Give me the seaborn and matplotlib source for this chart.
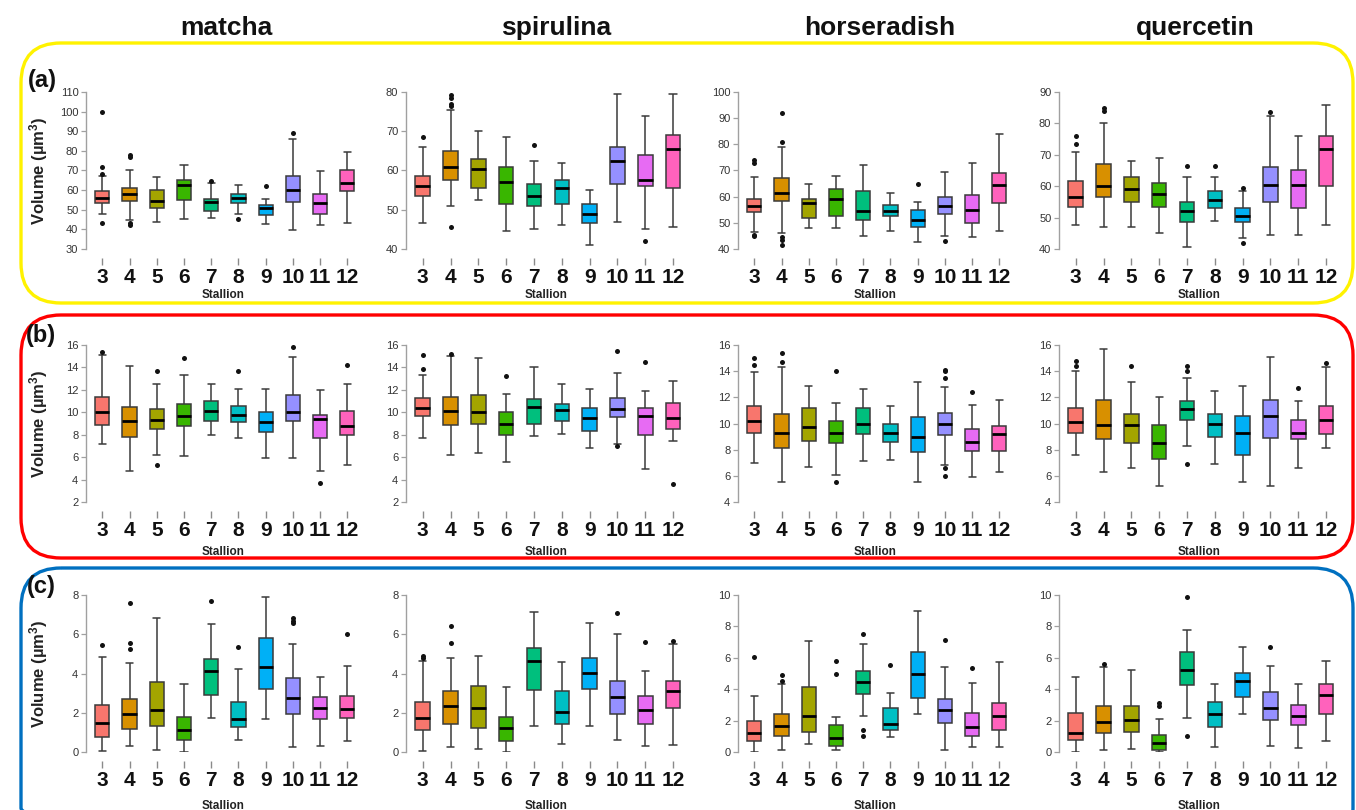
import numpy as np
import pandas as pd
import matplotlib
matplotlib.use("Agg")
import matplotlib.pyplot as plt
from matplotlib.patches import FancyBboxPatch
import seaborn as sns

# ---------------- data ----------------
STALLIONS = ["3", "4", "5", "6", "7", "8", "9", "10", "11", "12"]
COLORS = ["#F8766D", "#D89000", "#A3A500", "#39B600", "#00BF7D",
          "#00BFC4", "#00B0F6", "#9590FF", "#E76BF3", "#FF62BC"]
SUBSTANCES = ["matcha", "spirulina", "horseradish", "quercetin"]
ROW_LABELS = ["(a)", "(b)", "(c)"]
FRAME_COLORS = ["#FFF200", "#FF0000", "#0070C0"]
Y_LABEL = "Volume (µm$^{3}$)"
X_LABEL = "Stallion"

# box stats per stallion: (whisker low, Q1, median, Q3, whisker high)
matcha_a = [(48, 53.5, 56, 59.5, 67), (45, 54.5, 58, 61, 70.5), (44, 51, 54.5, 60, 66.5),
            (45.5, 55, 62.5, 65, 73), (46, 49.5, 54, 55.5, 63.5), (48, 53.5, 56, 58, 62.5),
            (42.5, 47.5, 51, 52.5, 55.5), (39.5, 54, 60, 67, 86), (42, 48, 53.5, 58, 69.5),
            (43, 59.5, 63.5, 70.5, 79.5)]
matcha_a_out = [("3", 100), ("3", 72), ("3", 68), ("3", 43), ("4", 78), ("4", 77), ("4", 43),
                ("4", 42), ("7", 64.5), ("8", 45.5), ("9", 62), ("10", 89)]

spirulina_a = [(46.5, 53.5, 56, 58.5, 66), (51, 57.5, 61, 65, 75.5), (52.5, 55.5, 60.5, 63, 70),
               (44.5, 51.5, 57, 61, 68.5), (45, 51, 53.5, 56.5, 62.5), (46, 51.5, 55.5, 57.5, 62),
               (41, 46.5, 49, 51.5, 55), (47, 56.5, 62.5, 66, 79.5), (45, 56, 57.5, 64, 74),
               (45.5, 55.5, 65.5, 69, 79.5)]
spirulina_a_out = [("3", 68.5), ("4", 79.2), ("4", 78.5), ("4", 77), ("4", 76.5), ("4", 45.5),
                   ("7", 66.5), ("11", 42)]

horseradish_a = [(46.5, 54, 56.5, 59, 67.5), (46, 58.5, 61.5, 67, 79), (48, 52, 57.5, 59, 65),
                 (48, 52.5, 59, 63, 68), (45, 51, 54.5, 62, 72), (47, 52.5, 54.5, 57, 61.5),
                 (42.5, 48.5, 51, 55, 58), (45, 53.5, 56.5, 60, 69.5), (44.5, 50, 55, 60.5, 73),
                 (47, 57.5, 64.5, 69, 84)]
horseradish_a_out = [("3", 74), ("3", 73), ("3", 45.5), ("3", 45), ("4", 92), ("4", 81),
                     ("4", 44.5), ("4", 43.5), ("4", 41.5), ("9", 65), ("10", 43)]

quercetin_a = [(47.5, 53.5, 56.5, 61.5, 71), (47, 56.5, 60, 67, 80), (47, 55, 59, 63, 68),
               (45, 53.5, 57.5, 61, 69), (40.5, 48.5, 52, 55, 63), (49, 53, 55.5, 58.5, 63),
               (43.5, 48.5, 50.5, 53, 58.5), (44.5, 55, 60.5, 66, 82.5), (44.5, 53, 60.5, 65, 76),
               (47.5, 60, 72, 76, 86)]
quercetin_a_out = [("3", 76), ("3", 73.5), ("4", 85), ("4", 84), ("7", 66.5), ("8", 66.5),
                   ("9", 59.5), ("9", 42), ("10", 83.5)]

matcha_b = [(7.2, 8.9, 10, 11.4, 15.1), (4.8, 7.8, 9.2, 10.5, 14.1), (6.2, 8.5, 9.3, 10.3, 12.5),
            (6.1, 8.8, 9.7, 10.7, 13.3), (8.0, 9.2, 10.1, 11.0, 12.5), (7.7, 9.1, 9.8, 10.6, 12.1),
            (5.9, 8.2, 9.1, 10.0, 12.1), (5.9, 9.2, 10.0, 11.5, 14.9), (4.8, 7.7, 9.4, 9.8, 12.0),
            (5.3, 8.0, 8.8, 10.1, 12.5)]
matcha_b_out = [("3", 15.4), ("5", 13.7), ("5", 5.3), ("6", 14.8), ("8", 13.7), ("10", 15.8),
                ("11", 3.7), ("12", 14.2)]

spirulina_b = [(7.7, 9.7, 10.4, 11.3, 13.3), (6.2, 8.9, 10.1, 11.4, 15.0), (6.4, 9.0, 10.0, 11.5, 14.8),
               (5.6, 8.0, 9.0, 10.0, 11.6), (7.9, 9.0, 10.5, 11.2, 14.0), (8.1, 9.2, 10.2, 10.7, 12.5),
               (6.8, 8.3, 9.5, 10.4, 12.1), (7.2, 9.6, 10.3, 11.3, 13.5), (4.9, 8.0, 9.7, 10.4, 11.9),
               (7.4, 8.5, 9.5, 10.8, 12.8)]
spirulina_b_out = [("3", 15.1), ("3", 13.9), ("4", 15.2), ("6", 13.2), ("10", 15.5), ("10", 7.0),
                   ("11", 14.5), ("12", 3.6)]

horseradish_b = [(7.0, 9.3, 10.2, 11.3, 13.9), (5.5, 8.1, 9.3, 10.7, 14.3), (6.7, 8.7, 9.7, 11.2, 12.9),
                 (6.1, 8.5, 9.3, 10.2, 11.6), (7.1, 9.2, 10.0, 11.2, 12.6), (7.2, 8.6, 9.3, 10.0, 11.3),
                 (5.5, 7.8, 9.0, 10.5, 13.2), (6.8, 9.1, 10.0, 10.8, 12.8), (5.9, 7.9, 8.6, 9.6, 11.4),
                 (6.3, 7.9, 9.2, 9.8, 11.8)]
horseradish_b_out = [("3", 15.0), ("3", 14.5), ("4", 15.4), ("4", 14.7), ("6", 14.0), ("6", 5.5),
                     ("10", 14.1), ("10", 14.0), ("10", 13.5), ("10", 6.6), ("10", 6.0), ("11", 12.4)]

quercetin_b = [(7.6, 9.3, 10.1, 11.2, 14.0), (6.3, 8.8, 9.9, 11.8, 15.7), (6.6, 8.5, 9.9, 10.7, 13.2),
               (5.2, 7.3, 8.5, 9.9, 12.0), (8.3, 10.3, 11.1, 11.7, 13.5), (6.9, 9.0, 10.0, 10.7, 12.5),
               (5.5, 7.6, 9.3, 10.6, 12.9), (5.2, 8.9, 10.6, 11.8, 15.1), (6.6, 8.8, 9.3, 10.3, 11.7),
               (8.1, 9.2, 10.3, 11.3, 14.3)]
quercetin_b_out = [("3", 14.8), ("3", 14.4), ("5", 14.4), ("7", 14.4), ("7", 14.0), ("7", 6.9),
                   ("11", 12.7), ("12", 14.6)]

matcha_c = [(0.05, 0.75, 1.5, 2.4, 4.85), (0.3, 1.15, 1.95, 2.7, 4.55), (0.1, 1.3, 2.15, 3.55, 6.85),
            (0.0, 0.6, 1.1, 1.8, 3.45), (1.75, 2.9, 4.15, 4.75, 6.5), (0.6, 1.25, 1.7, 2.55, 4.25),
            (1.7, 3.2, 4.35, 5.8, 7.9), (0.25, 1.95, 2.75, 3.75, 5.5), (0.3, 1.7, 2.25, 2.8, 3.8),
            (0.55, 1.75, 2.2, 2.85, 4.4)]
matcha_c_out = [("3", 5.45), ("4", 7.6), ("4", 5.55), ("4", 5.25), ("7", 7.7), ("8", 5.35),
                ("10", 6.85), ("10", 6.7), ("10", 6.55), ("12", 6.0)]

spirulina_c = [(0.05, 1.1, 1.75, 2.55, 4.65), (0.25, 1.45, 2.35, 3.1, 4.8), (0.15, 1.2, 2.25, 3.35, 4.9),
               (0.0, 0.55, 1.2, 1.8, 3.3), (1.35, 3.15, 4.65, 5.3, 7.15), (0.4, 1.45, 2.05, 3.1, 4.6),
               (1.35, 3.2, 4.05, 4.8, 6.55), (0.6, 1.95, 2.8, 3.6, 6.0), (0.3, 1.45, 2.15, 2.85, 4.15),
               (0.35, 2.25, 3.1, 3.6, 5.5)]
spirulina_c_out = [("3", 4.9), ("3", 4.8), ("4", 6.4), ("4", 5.55), ("10", 7.1), ("11", 5.6),
                   ("12", 5.65)]

horseradish_c = [(0.0, 0.7, 1.2, 2.0, 3.55), (0.15, 1.0, 1.65, 2.45, 4.3), (0.5, 1.25, 2.3, 4.15, 7.05),
                 (0.1, 0.4, 0.9, 1.75, 2.25), (2.3, 3.7, 4.45, 5.15, 6.85), (0.95, 1.4, 1.8, 2.8, 3.75),
                 (2.4, 3.45, 5.0, 6.35, 9.0), (0.1, 1.85, 2.65, 3.4, 5.4), (0.35, 1.0, 1.6, 2.5, 4.4),
                 (0.3, 1.4, 2.3, 3.15, 5.75)]
horseradish_c_out = [("3", 6.05), ("4", 4.9), ("4", 4.55), ("6", 5.8), ("6", 4.95), ("7", 7.5),
                     ("7", 1.4), ("7", 1.05), ("8", 5.55), ("10", 7.15), ("11", 5.35)]

quercetin_c = [(0.0, 0.75, 1.2, 2.5, 4.8), (0.1, 1.2, 1.9, 2.9, 5.4), (0.2, 1.25, 2.05, 2.9, 5.25),
               (0.0, 0.15, 0.55, 1.1, 2.1), (2.15, 4.25, 5.2, 6.35, 7.75), (0.3, 1.6, 2.45, 3.2, 4.35),
               (2.45, 3.5, 4.5, 5.05, 6.7), (0.4, 2.05, 2.8, 3.8, 5.5), (0.25, 1.7, 2.3, 3.0, 4.35),
               (0.7, 2.45, 3.6, 4.3, 5.8)]
quercetin_c_out = [("4", 5.6), ("6", 3.1), ("6", 2.95), ("7", 9.9), ("7", 1.05), ("10", 6.7)]

# y-axis tick labels per panel
yticks_a = [list(range(30, 111, 10)), list(range(40, 81, 10)), list(range(40, 101, 10)), list(range(40, 91, 10))]
yticks_b = [list(range(2, 17, 2)), list(range(2, 17, 2)), list(range(4, 17, 2)), list(range(4, 17, 2))]
yticks_c = [list(range(0, 9, 2)), list(range(0, 9, 2)), list(range(0, 11, 2)), list(range(0, 11, 2))]

BOXES = [[matcha_a, spirulina_a, horseradish_a, quercetin_a],
         [matcha_b, spirulina_b, horseradish_b, quercetin_b],
         [matcha_c, spirulina_c, horseradish_c, quercetin_c]]
OUTLIERS = [[matcha_a_out, spirulina_a_out, horseradish_a_out, quercetin_a_out],
            [matcha_b_out, spirulina_b_out, horseradish_b_out, quercetin_b_out],
            [matcha_c_out, spirulina_c_out, horseradish_c_out, quercetin_c_out]]
YTICKS = [yticks_a, yticks_b, yticks_c]

# ---------------- style ----------------
sns.set_theme(style="white")
plt.rcParams["font.family"] = ["Liberation Sans", "DejaVu Sans"]
plt.rcParams["mathtext.fontset"] = "custom"
plt.rcParams["mathtext.rm"] = "Liberation Sans"
plt.rcParams["mathtext.bf"] = "Liberation Sans:bold"
plt.rcParams["mathtext.default"] = "bf"

W, H = 1356, 810
fig = plt.figure(figsize=(W / 100, H / 100), dpi=100)

# background layer with pixel coordinates for the rounded frames
bg = fig.add_axes([0, 0, 1, 1], zorder=-5)
bg.set_xlim(0, W)
bg.set_ylim(H, 0)
bg.axis("off")
frames = [(21, 43, 1332, 260), (21, 315, 1332, 243), (21, 568, 1332, 280)]
for (fx, fy, fw, fh), fc in zip(frames, FRAME_COLORS):
    bg.add_patch(FancyBboxPatch((fx, fy), fw, fh, boxstyle="round,pad=0,rounding_size=40",
                                fill=False, edgecolor=fc, linewidth=2.4))

col_left = [86, 406, 738, 1059]
col_width = [275, 281, 275, 281]
row_top = [92, 345, 595]
ax_h = 157
xlabel_y = [-0.255, -0.28, -0.306]

for r in range(3):
    for c in range(4):
        ax = fig.add_axes([col_left[c] / W, 1 - (row_top[r] + ax_h) / H,
                           col_width[c] / W, ax_h / H])
        ax.set_facecolor("none")
        rows = [(STALLIONS[i], v) for i, s in enumerate(BOXES[r][c]) for v in s]
        df = pd.DataFrame(rows, columns=["stallion", "value"])
        sns.boxplot(data=df, x="stallion", y="value", hue="stallion", order=STALLIONS,
                    hue_order=STALLIONS, palette=COLORS, saturation=1, whis=(0, 100),
                    width=0.52, linewidth=1.1, linecolor="#3a3a3a", showfliers=False,
                    legend=False, medianprops=dict(color="black", linewidth=2.0), ax=ax)
        out = OUTLIERS[r][c]
        if out:
            odf = pd.DataFrame(out, columns=["stallion", "value"])
            sns.stripplot(data=odf, x="stallion", y="value", order=STALLIONS, color="#111111",
                          size=3.6, jitter=False, ax=ax, zorder=5)
        yt = YTICKS[r][c]
        ax.set_ylim(yt[0], yt[-1])
        ax.set_yticks(yt)
        ax.set_xlim(-0.6, 9.5)
        for s in ["top", "right"]:
            ax.spines[s].set_visible(False)
        ax.spines["bottom"].set_position(("outward", 6.5))
        ax.spines["bottom"].set_visible(False)
        ax.spines["left"].set_color("#a0a0a0")
        ax.spines["left"].set_linewidth(1.0)
        ax.tick_params(axis="y", which="major", left=True, length=3.5, width=0.9,
                       color="#a0a0a0", labelsize=8, labelcolor="#333333", pad=2)
        ax.tick_params(axis="x", which="major", bottom=True, length=5, width=1.0,
                       color="#8a8a8a", labelsize=15, labelcolor="#111111", pad=2)
        for t in ax.get_xticklabels():
            t.set_fontweight("bold")
        ax.set_xlabel(X_LABEL, fontsize=8.5, fontweight="bold", color="#222222")
        ax.xaxis.set_label_coords(0.5, xlabel_y[r])
        if c == 0:
            ax.set_ylabel(Y_LABEL, fontsize=12, fontweight="bold", color="#222222")
            ax.yaxis.set_label_coords(-0.13, 0.5)
        else:
            ax.set_ylabel("")
        ax.grid(False)

def fpos(x, y):
    return x / W, 1 - y / H

header_x = [226, 556, 880, 1195]
for name, hx in zip(SUBSTANCES, header_x):
    fig.text(*fpos(hx, 28), name, ha="center", va="center", fontsize=19,
             fontweight="bold", color="#111111")

label_pos = [(42, 80), (41, 335), (41, 587)]
for lab, (lx, ly) in zip(ROW_LABELS, label_pos):
    fig.text(*fpos(lx, ly), lab, ha="center", va="center", fontsize=17,
             fontweight="bold", color="#111111")

fig.savefig("out.png", dpi=100, facecolor="white")
